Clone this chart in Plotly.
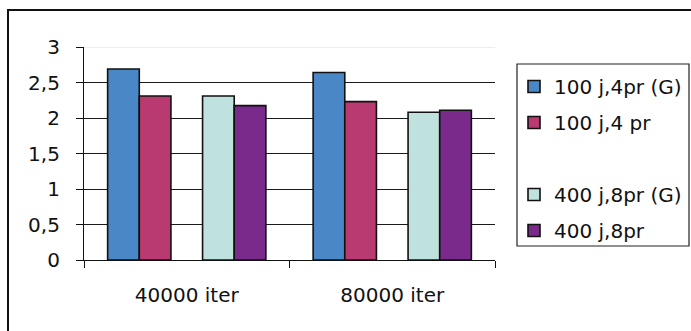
import plotly.graph_objects as go

# Chart data
categories = ["40000 iter", "80000 iter"]
series_names = ["100 j,4pr (G)", "100 j,4 pr", "", "400 j,8pr (G)", "400 j,8pr"]
s_100_4pr_g = [2.69, 2.64]
s_100_4pr = [2.31, 2.23]
s_blank = [None, None]
s_400_8pr_g = [2.31, 2.08]
s_400_8pr = [2.175, 2.11]
y_ticks = [0, 0.5, 1, 1.5, 2, 2.5, 3]
y_tick_labels = ["0", "0,5", "1", "1,5", "2", "2,5", "3"]

series_values = [s_100_4pr_g, s_100_4pr, s_blank, s_400_8pr_g, s_400_8pr]
colors = ["#4a87c7", "#b93a70", "rgba(0,0,0,0)", "#c0e2df", "#7a2a8a"]

W, H = 691, 331
L, R, T, B = 84, 196, 47, 71
PW, PH = W - L - R, H - T - B


def px_x(p):
    return (p - L) / PW


def px_y(p):
    return (H - B - p) / PH


FONT = "DejaVu Sans, Arial, sans-serif"

fig = go.Figure()
for i, (name, vals, col) in enumerate(zip(series_names, series_values, colors)):
    blank = name == ""
    fig.add_trace(go.Bar(
        x=categories, y=vals, name=name if not blank else "\u00a0",
        marker=dict(color=col,
                    line=dict(color="rgba(0,0,0,0)" if blank else "#111111",
                              width=0 if blank else 1.6)),
        legendgroup=f"g{i}",
    ))

shapes = [
    # outer frame
    dict(type="rect", xref="paper", yref="paper",
         x0=px_x(8), x1=px_x(720), y0=px_y(360), y1=px_y(10),
         line=dict(color="#111111", width=2), fillcolor="rgba(0,0,0,0)", layer="above"),
    # legend box
    dict(type="rect", xref="paper", yref="paper",
         x0=px_x(517), x1=px_x(689), y0=px_y(246), y1=px_y(64),
         line=dict(color="#222222", width=1.2), fillcolor="rgba(0,0,0,0)", layer="above"),
    # light top gridline
    dict(type="line", xref="paper", yref="y", x0=0, x1=1, y0=3, y1=3,
         line=dict(color="#dedede", width=1.2), layer="above"),
]

fig.update_layout(
    width=W, height=H,
    margin=dict(l=L, r=R, t=T, b=B, autoexpand=False),
    paper_bgcolor="white", plot_bgcolor="white",
    barmode="group", bargap=0.23, bargroupgap=0,
    font=dict(family=FONT, color="#111111", size=20),
    showlegend=True,
    legend=dict(x=px_x(514), xanchor="left", y=px_y(67), yanchor="top",
                bgcolor="rgba(0,0,0,0)", borderwidth=0,
                font=dict(family=FONT, size=20, color="#111111"),
                tracegroupgap=7, itemwidth=30, traceorder="grouped"),
    shapes=shapes,
    xaxis=dict(showline=True, linecolor="#111111", linewidth=1.2,
               ticks="outside", tickson="boundaries", ticklen=7,
               tickcolor="#111111", tickwidth=1.2,
               showgrid=False, ticklabelstandoff=17,
               tickfont=dict(family=FONT, size=20, color="#111111")),
    yaxis=dict(range=[0, 3], tickvals=y_ticks, ticktext=y_tick_labels,
               showline=True, linecolor="#111111", linewidth=1.2,
               ticks="outside", ticklen=7, tickcolor="#111111", tickwidth=1.2,
               showgrid=True, gridcolor="#1a1a1a", gridwidth=1.2,
               zeroline=False, ticklabelstandoff=12,
               tickfont=dict(family=FONT, size=20, color="#111111")),
)

fig.write_html("out.html")
